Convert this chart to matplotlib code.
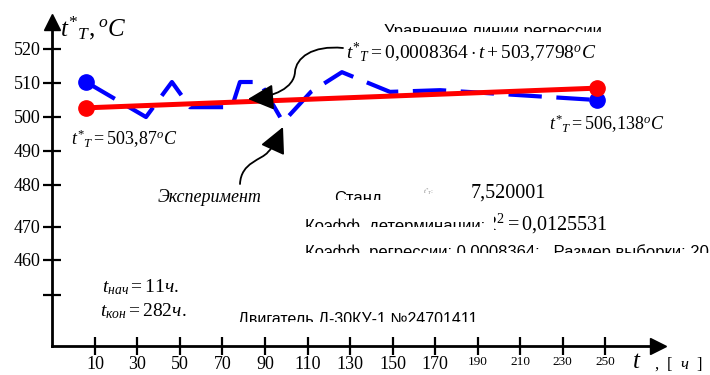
import numpy as np
import matplotlib
matplotlib.use("Agg")
import matplotlib.pyplot as plt
from matplotlib.patches import FancyArrowPatch
from matplotlib.path import Path
from matplotlib.transforms import Bbox, TransformedBbox

plt.rcParams['font.family'] = ['Liberation Serif', 'DejaVu Serif']
plt.rcParams['mathtext.fontset'] = 'custom'
plt.rcParams['mathtext.rm'] = 'Liberation Serif'
plt.rcParams['mathtext.it'] = 'Liberation Serif:italic'
plt.rcParams['mathtext.bf'] = 'Liberation Serif:bold'

# эксперимент (ломаная), часы / градусы
t_exp = [5.8, 34.0, 46.2, 54.7, 74.4, 78.2, 87.6, 98.5, 111.6, 126.2, 148.8, 172.4, 246.2]
T_exp = [510.2, 499.9, 510.2, 502.8, 502.8, 510.2, 510.2, 498.4, 507.3, 513.1, 507.3, 507.8, 504.9]

# линия регрессии
t_reg = [5.8, 246.2]
T_reg = [502.6, 508.4]

x_ticks = [10, 30, 50, 70, 90, 110, 130, 150, 170, 190, 210, 230, 250]
y_ticks = [520, 510, 500, 490, 480, 467.6, 457.9, 447.6]
y_labels = ['520', '510', '500', '490', '480', '470', '460', '']

W, H = 710, 375
fig = plt.figure(figsize=(W / 100, H / 100), dpi=100)
ax = fig.add_axes([0, 0, 1, 1])
ax.set_xlim(-34.7, 299.4)
ax.set_ylim(424.03, 534.32)
ax.patch.set_visible(False)


def px(x, y):
    # пиксели картинки -> доли фигуры
    return x / W, 1 - y / H


def clipped(x, y, s, cut, left=0, **kw):
    t = fig.text(*px(x, y), s, **kw)
    box = Bbox([[left / W, 1 - cut / H], [1, 1]])
    t.set_clip_box(TransformedBbox(box, fig.transFigure))
    t.set_clip_on(True)
    return t


# оси
for s in ['top', 'right']:
    ax.spines[s].set_visible(False)
ax.spines['left'].set_position(('data', -10))
ax.spines['bottom'].set_position(('data', 432.6))
ax.spines['left'].set_bounds(432.6, 528)
ax.spines['bottom'].set_bounds(-10, 276)
ax.spines['left'].set_linewidth(2)
ax.spines['bottom'].set_linewidth(2)
ax.plot([-10], [527.9], marker='^', color='black', markersize=11, clip_on=False)
ax.plot([274.9], [432.6], marker='>', color='black', markersize=11, clip_on=False)

ax.set_xticks(x_ticks)
ax.set_xticklabels([str(v) for v in x_ticks])
for lab, v in zip(ax.get_xticklabels(), x_ticks):
    lab.set_fontsize(13 if v <= 170 else 9.5)
ax.set_yticks(y_ticks)
ax.set_yticklabels(y_labels, fontsize=13)
ax.tick_params(axis='both', direction='inout', length=13, width=1.6)
ax.tick_params(axis='x', pad=1)
ax.tick_params(axis='y', pad=2)

# данные
ax.plot(t_exp, T_exp, color='#0000ff', lw=3, linestyle=(0, (8, 3.5)))
ax.plot(t_exp[0], T_exp[0], 'o', color='#0000ff', markersize=11)
ax.plot(t_exp[-1], T_exp[-1], 'o', color='#0000ff', markersize=11)
ax.plot(t_reg, T_reg, color='#ff0000', lw=3.6)
ax.plot(t_reg, T_reg, 'o', color='#ff0000', markersize=11)

# подписи
fig.text(*px(60, 28), r'$t^{*}{}_{T},{}^{o}C$', fontsize=18, va='center')
clipped(384, 24, 'Уравнение линии регрессии', 32, family='Liberation Sans',
        fontsize=12, va='top')
fig.text(*px(346, 53), r'$t^{*}{}_{T} = 0{,}0008364\cdot t + 503{,}7798^{o}C$',
         fontsize=14, va='center')
fig.text(*px(71, 139), r'$t^{*}{}_{T} = 503{,}87^{o}C$', fontsize=13, va='center')
fig.text(*px(549, 124), r'$t^{*}{}_{T} = 506{,}138^{o}C$', fontsize=13, va='center')
fig.text(*px(158, 197), 'Эксперимент', fontsize=13, style='italic', va='center')

clipped(334, 191, 'Станд', 200, family='Liberation Sans', fontsize=12, va='top')
fig.text(*px(423, 192), r'$t^{*}{}_{T}$:', fontsize=5, color='#888888', va='center')
fig.text(*px(471, 193), '7,520001', fontsize=14.5, va='center')
clipped(305, 218, 'Коэфф. детерминации:', 227, family='Liberation Sans',
        fontsize=12, va='top')
clipped(483, 224, r'$R^2 = 0{,}0125531$', 400, left=494, fontsize=14.5, va='center')
clipped(305, 244, 'Коэфф. регрессии: 0,0008364;   Размер выборки: 20', 253,
        family='Liberation Sans', fontsize=12, va='top')

fig.text(*px(102, 287), r'$t_{нач} = 11ч.$', fontsize=14, va='center')
fig.text(*px(100, 311), r'$t_{кон} = 282ч.$', fontsize=14, va='center')
clipped(238, 312, 'Двигатель Д-30КУ-1 №24701411', 322, family='Liberation Sans',
        fontsize=11.5, va='top')
fig.text(*px(632, 362), r'$t$', fontsize=18, va='center')
fig.text(*px(654, 364), r',  [  $ч$  ]', fontsize=12, va='center')

# стрелки-выноски
def curve(points):
    verts = [px(*p) for p in points]
    codes = [Path.MOVETO] + [Path.CURVE4] * (len(verts) - 1)
    return Path(verts, codes)


a1 = curve([(343, 48), (312, 45), (296, 58), (295, 72),
            (294, 88), (274, 97), (248, 99)])
a2 = curve([(240, 184), (241, 162), (262, 160), (268, 152),
            (274, 146), (278, 138), (283, 127)])
for p in (a1, a2):
    fig.add_artist(FancyArrowPatch(path=p, transform=fig.transFigure,
                                   arrowstyle='-|>,head_length=0.8,head_width=0.4',
                                   mutation_scale=20, lw=1.3, color='black',
                                   shrinkA=0, shrinkB=0))

fig.savefig('out.png', dpi=100)
